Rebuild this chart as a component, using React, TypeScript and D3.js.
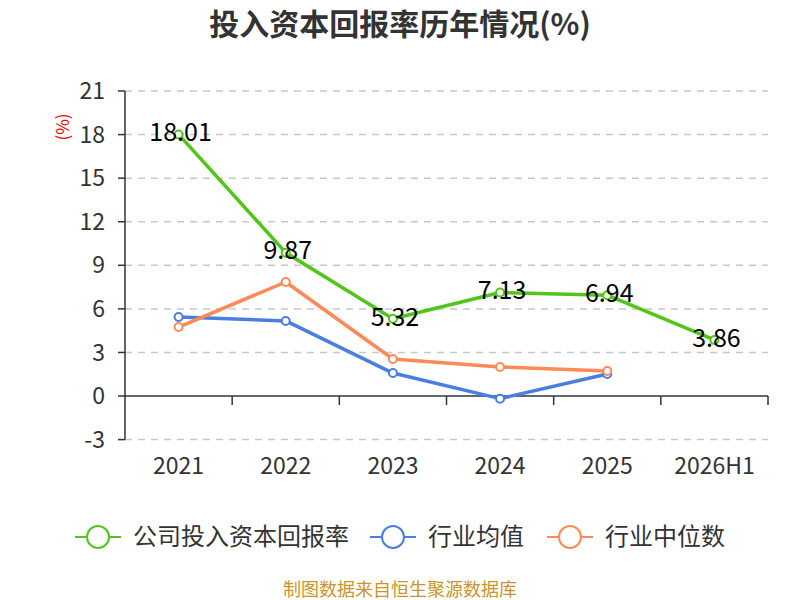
import * as d3 from "d3";

const CATEGORIES = ["2021", "2022", "2023", "2024", "2025", "2026H1"];
const COMPANY = [18.01, 9.87, 5.32, 7.13, 6.94, 3.86];
const INDUSTRY_AVG = [5.44, 5.17, 1.58, -0.18, 1.52];
const INDUSTRY_MEDIAN = [4.75, 7.85, 2.55, 2.0, 1.72];
const Y_TICKS = [-3, 0, 3, 6, 9, 12, 15, 18, 21];
const LEGEND = ["公司投入资本回报率", "行业均值", "行业中位数"];

const WIDTH = 800;
const HEIGHT = 600;
const PLOT = { left: 125, right: 768, top: 91, bottom: 439.6 };
const COLORS = ["#52c41a", "#4a7ee0", "#ff8a57"];
const FONT = "'Noto Sans CJK SC', 'Noto Sans', sans-serif";

const x = d3.scaleBand<string>().domain(CATEGORIES).range([PLOT.left, PLOT.right]);
const y = d3.scaleLinear().domain([-3, 21]).range([PLOT.bottom, PLOT.top]);
const cx = (i: number) => (x(CATEGORIES[i]) ?? 0) + x.bandwidth() / 2;

const line = d3
  .line<number>()
  .x((_, i) => cx(i))
  .y((v) => y(v));

const SERIES = [COMPANY, INDUSTRY_AVG, INDUSTRY_MEDIAN];

export default function App() {
  const tickEdges = CATEGORIES.map((c) => (x(c) ?? 0) + x.bandwidth());
  const legendX = [75, 370, 547];
  return (
    <svg
      width={WIDTH}
      height={HEIGHT}
      style={{ position: "absolute", left: 0, top: 0 }}
      fontFamily={FONT}
    >
      <rect width={WIDTH} height={HEIGHT} fill="#fff" />
      <text x={400} y={35} textAnchor="middle" fontSize={30} fontWeight="bold" fill="#333">
        投入资本回报率历年情况(%)
      </text>
      <text
        transform={`translate(63,127) rotate(-90)`}
        textAnchor="middle"
        dy="0.35em"
        fontSize={17}
        fill="#e00"
      >
        (%)
      </text>
      {Y_TICKS.map((t) => (
        <g key={t}>
          {t !== 0 && (
            <line
              x1={PLOT.left}
              x2={PLOT.right}
              y1={y(t)}
              y2={y(t)}
              stroke="#c8c8c8"
              strokeWidth={1.5}
              strokeDasharray="7 6"
            />
          )}
          <line x1={PLOT.left - 7} x2={PLOT.left} y1={y(t)} y2={y(t)} stroke="#333" strokeWidth={1.5} />
          <text x={PLOT.left - 20} y={y(t)} dy="0.35em" textAnchor="end" fontSize={23} fill="#333">
            {t}
          </text>
        </g>
      ))}
      <line x1={PLOT.left} x2={PLOT.left} y1={PLOT.top} y2={PLOT.bottom} stroke="#333" strokeWidth={1.5} />
      <line x1={PLOT.left} x2={PLOT.right} y1={y(0)} y2={y(0)} stroke="#333" strokeWidth={1.5} />
      {tickEdges.map((e, i) => (
        <line key={i} x1={e} x2={e} y1={y(0)} y2={y(0) + 9} stroke="#333" strokeWidth={1.5} />
      ))}
      {CATEGORIES.map((c, i) => (
        <text key={c} x={cx(i)} y={474} textAnchor="middle" fontSize={23} fill="#333">
          {c}
        </text>
      ))}
      {SERIES.map((s, k) => (
        <g key={k}>
          <path d={line(s) ?? ""} fill="none" stroke={COLORS[k]} strokeWidth={3.5} strokeLinejoin="round" />
          {s.map((v, i) => (
            <circle key={i} cx={cx(i)} cy={y(v)} r={4} fill="#fff" stroke={COLORS[k]} strokeWidth={2} />
          ))}
        </g>
      ))}
      {COMPANY.map((v, i) => (
        <text key={i} x={cx(i) + 2} y={y(v) - 2} dy="0.35em" textAnchor="middle" fontSize={25} fill="#000">
          {v.toFixed(2)}
        </text>
      ))}
      {LEGEND.map((name, k) => (
        <g key={name} transform={`translate(${legendX[k]},537)`}>
          <line x1={0} x2={46} y1={0} y2={0} stroke={COLORS[k]} strokeWidth={2} />
          <circle cx={23} cy={0} r={11} fill="#fff" stroke={COLORS[k]} strokeWidth={2} />
          <text x={58} y={0} dy="0.35em" fontSize={24} fill="#333">
            {name}
          </text>
        </g>
      ))}
      <text x={400} y={590} dy="0.35em" textAnchor="middle" fontSize={18} fill="#c9952b">
        制图数据来自恒生聚源数据库
      </text>
    </svg>
  );
}
